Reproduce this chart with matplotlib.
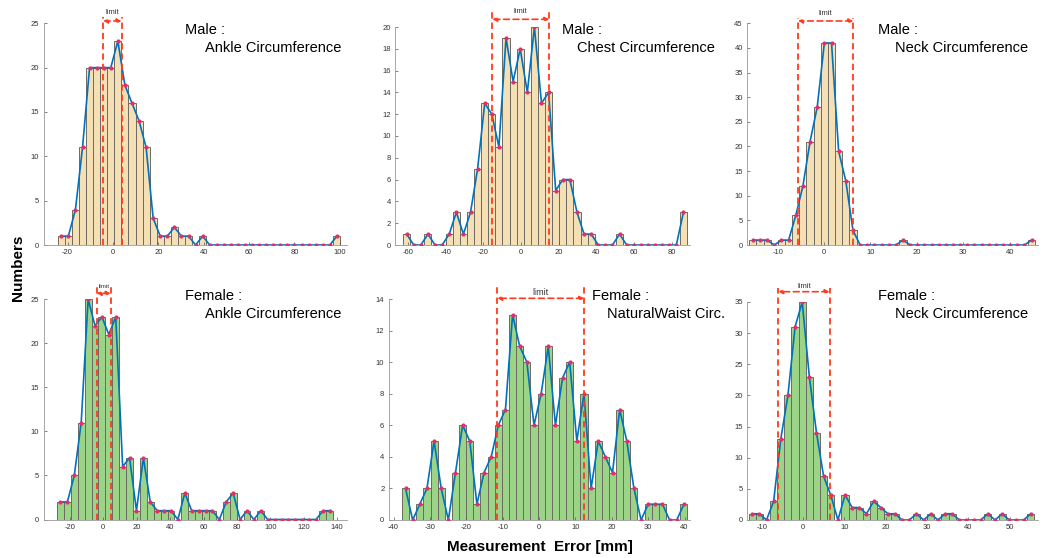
import numpy as np
import matplotlib
matplotlib.use("Agg")
import matplotlib.pyplot as plt
import matplotlib.transforms as mtransforms

plt.rcParams['font.family'] = ['Liberation Sans', 'DejaVu Sans']
plt.rcParams['axes.unicode_minus'] = False

# histogram counts (40 bins each)
male_ankle = [1, 1, 4, 11, 20, 20, 20, 20, 23, 18, 16, 14, 11, 3, 1, 1, 2, 1, 1, 0,
              1, 0, 0, 0, 0, 0, 0, 0, 0, 0, 0, 0, 0, 0, 0, 0, 0, 0, 0, 1]
male_chest = [1, 0, 0, 1, 0, 0, 1, 3, 1, 3, 7, 13, 12, 9, 19, 15, 18, 14, 20, 13,
              14, 5, 6, 6, 3, 1, 1, 0, 0, 0, 1, 0, 0, 0, 0, 0, 0, 0, 0, 3]
male_neck = [1, 1, 1, 0, 1, 1, 6, 12, 21, 28, 41, 41, 19, 13, 3, 0, 0, 0, 0, 0,
             0, 1, 0, 0, 0, 0, 0, 0, 0, 0, 0, 0, 0, 0, 0, 0, 0, 0, 0, 1]
female_ankle = [2, 2, 5, 11, 25, 22, 23, 21, 23, 6, 7, 1, 7, 2, 1, 1, 1, 0, 3, 1,
                1, 1, 1, 0, 2, 3, 0, 1, 0, 1, 0, 0, 0, 0, 0, 0, 0, 0, 1, 1]
female_waist = [2, 0, 1, 2, 5, 2, 0, 3, 6, 5, 1, 3, 4, 6, 7, 13, 11, 10, 6, 8,
                11, 6, 9, 10, 5, 8, 2, 5, 4, 3, 7, 5, 2, 0, 1, 1, 1, 0, 0, 1]
female_neck = [1, 1, 0, 3, 13, 20, 31, 35, 23, 14, 7, 4, 0, 4, 2, 2, 1, 3, 2, 1,
               1, 0, 0, 1, 0, 1, 0, 1, 1, 0, 0, 0, 0, 1, 0, 1, 0, 0, 0, 1]

# bin range (first edge, last edge) in mm
bin_ranges = [(-24.3, 100.3), (-62.6, 88.1), (-16.1, 45.5),
              (-27.7, 137.7), (-37.7, 40.8), (-13.2, 56.0)]
# limit band in mm
limits = [(-4.3, 3.8), (-15.2, 15.0), (-5.6, 6.3),
          (-4.0, 4.4), (-11.5, 12.4), (-6.0, 6.4)]
titles = [("Male :", "Ankle Circumference"), ("Male :", "Chest Circumference"),
          ("Male :", "Neck Circumference"), ("Female :", "Ankle Circumference"),
          ("Female :", "NaturalWaist Circ."), ("Female :", "Neck Circumference")]
counts_all = [male_ankle, male_chest, male_neck, female_ankle, female_waist, female_neck]

# layout in pixels: left, right, top, bottom
boxes = [(43.5, 347, 23.3, 245), (395, 690, 27, 245), (747, 1038, 23.3, 245),
         (43.5, 347, 299.3, 519.5), (388.5, 690, 299, 520), (747, 1038, 302, 520)]
xlims = [(-30.6, 103.2), (-66.9, 89.7), (-16.6, 46.1),
         (-35.8, 145.9), (-41.4, 41.5), (-13.6, 56.9)]
ylims = [25, 20, 45, 25, 14, 35]
ysteps = [5, 2, 5, 5, 2, 5]
xticks = [np.arange(-20, 101, 20), np.arange(-60, 81, 20), np.arange(-10, 41, 10),
          np.arange(-20, 141, 20), np.arange(-40, 41, 10), np.arange(-10, 51, 10)]
# limit decorations (pixel y): line top, arrow, text; text size
lim_px = [(16.7, 21, 12, 5.5), (12, 19.3, 11.7, 5.5), (17.7, 21, 13.3, 5.5),
          (286, 293.3, 287, 4.5), (285, 298.3, 292.3, 6.5), (288, 291.7, 286.7, 5.5)]
title_px = [(185, 30, 205, 47.7), (562, 30, 577, 47.7), (878, 30, 895, 47.7),
            (185, 296, 205, 313.5), (592, 296, 607, 313.5), (878, 296, 895, 313.5)]

W, H = 1044, 558
fig = plt.figure(figsize=(W / 100, H / 100), dpi=100)

red = '#FF3B1F'
for i in range(6):
    L, R, T, B = boxes[i]
    ax = fig.add_axes([L / W, 1 - B / H, (R - L) / W, (B - T) / H])
    counts = np.array(counts_all[i])
    lo, hi = bin_ranges[i]
    w = (hi - lo) / len(counts)
    centers = lo + w * (np.arange(len(counts)) + 0.5)
    face = '#F5DFB4' if i < 3 else '#9BD486'
    ax.bar(centers, counts, width=w, color=face, edgecolor='#6e6a62', linewidth=0.7)
    ax.plot(centers, counts, color='#0072BD', lw=1.2, zorder=3)
    ax.plot(centers, counts, ls='none', marker='o', ms=2, color='#E0306A', zorder=4)

    ax.set_xlim(*xlims[i])
    ax.set_ylim(0, ylims[i])
    ax.set_xticks(xticks[i])
    ax.set_yticks(np.arange(0, ylims[i] + 0.1, ysteps[i]))
    ax.tick_params(direction='in', length=2.5, width=0.5, labelsize=5.5,
                   colors='#555555', labelcolor='#333333', pad=3)
    for s in ['top', 'right']:
        ax.spines[s].set_visible(False)
    for s in ['left', 'bottom']:
        ax.spines[s].set_color('#999999')
        ax.spines[s].set_linewidth(0.6)

    # limit lines
    def yfrac(py):
        return (B - py) / (B - T)
    trans = mtransforms.blended_transform_factory(ax.transData, ax.transAxes)
    ltop, larr, ltxt, lsize = lim_px[i]
    x1, x2 = limits[i]
    for xv in (x1, x2):
        ax.plot([xv, xv], [0, yfrac(ltop)], transform=trans, clip_on=False,
                ls=(0, (3.5, 2.2)), color=red, lw=1.3, zorder=5)
    ax.annotate('', xy=(x1, yfrac(larr)), xytext=(x2, yfrac(larr)),
                xycoords=trans, textcoords=trans,
                arrowprops=dict(arrowstyle='<|-|>', ls=(0, (3.5, 2.2)), color=red,
                                lw=1.2, shrinkA=0, shrinkB=0, mutation_scale=6))
    ax.text((x1 + x2) / 2, yfrac(ltxt), 'limit', transform=trans, fontsize=lsize,
            ha='center', va='center', color='#333333')

    # titles
    tx1, ty1, tx2, ty2 = title_px[i]
    fig.text(tx1 / W, 1 - ty1 / H, titles[i][0], fontsize=10.5, va='center', ha='left')
    fig.text(tx2 / W, 1 - ty2 / H, titles[i][1], fontsize=10.5, va='center', ha='left')

fig.text(18 / W, 1 - 268 / H, 'Numbers', rotation=90, fontsize=11, fontweight='bold',
         ha='center', va='center')
fig.text(540 / W, 1 - 547 / H, 'Measurement  Error [mm]', fontsize=11,
         fontweight='bold', ha='center', va='center')

fig.savefig('out.png', dpi=100)
